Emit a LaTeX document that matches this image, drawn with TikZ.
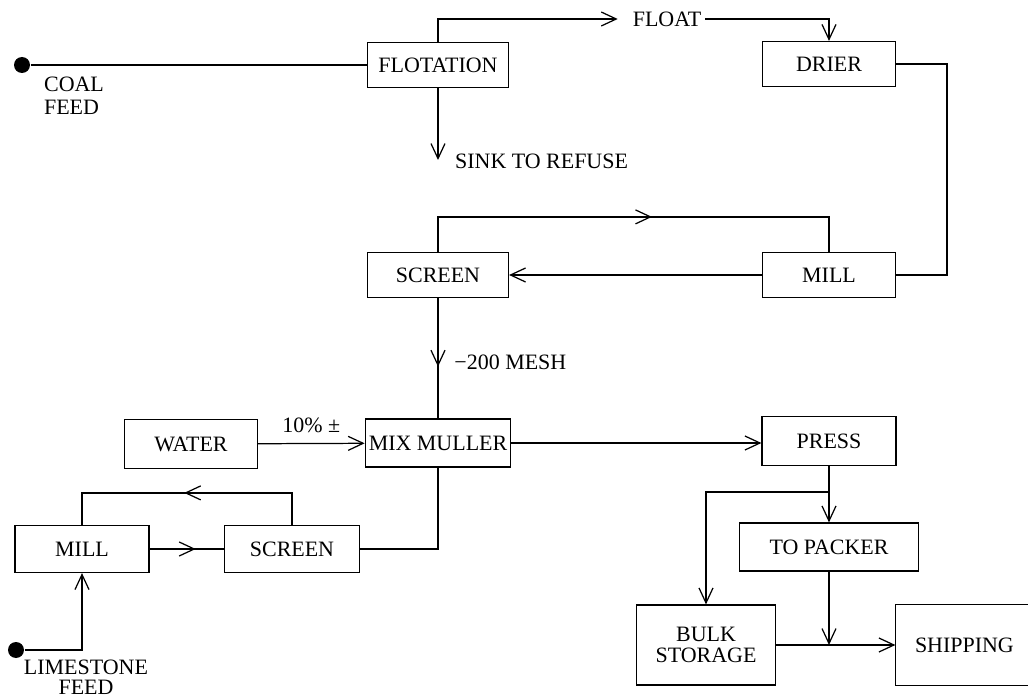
\documentclass[tikz,border=0pt]{standalone}
\usepackage{fontspec}
\setmainfont{Liberation Serif}
\usetikzlibrary{arrows.meta,decorations.markings}

\begin{document}
\begin{tikzpicture}[x=0.02cm, y=-0.02cm, line width=0.7pt,
    >={Straight Barb[length=3mm,width=2.8mm]},
    box/.style={draw, minimum height=0.9cm, inner sep=2pt, align=center, font=\fontsize{12.5}{12}\selectfont},
    lbl/.style={inner sep=2pt, align=center, font=\fontsize{12.5}{13}\selectfont},
    feed/.style={circle, fill, inner sep=0pt, minimum size=0.32cm},
    midarrow/.style={postaction={decorate}, decoration={markings, mark=at position #1 with {\arrow{>}}}}]
    \useasboundingbox (0,0) rectangle (1028,699);

    % coal side
    \node[feed] (coal) at (22,65) {};
    \node[lbl, align=left] (coallbl) at (74,96) {COAL\\FEED};
    \node[box, minimum width=2.82cm] (flot) at (438,65) {FLOTATION};
    \node[lbl] (float) at (667,19) {FLOAT};
    \coordinate (sink) at (438,160);
    \node[lbl, anchor=west] (sinklbl) at (451,161) {SINK TO REFUSE};
    \node[box, minimum width=2.66cm] (drier) at (829,64) {DRIER};
    \node[box, minimum width=2.66cm] (mill) at (829,275) {MILL};
    \node[box, minimum width=2.82cm] (screen) at (438,275) {SCREEN};

    % mixing
    \node[box, minimum width=2.82cm, minimum height=0.96cm] (mix) at (438,443) {MIX MULLER};
    \node[box, minimum width=2.66cm, minimum height=0.98cm] (water) at (191,444) {WATER};

    % limestone side
    \node[feed] (lime) at (16,650) {};
    \node[lbl, font=\fontsize{12.5}{11.5}\selectfont] (limelbl) at (86,677) {LIMESTONE\\FEED};
    \node[box, minimum width=2.68cm, minimum height=0.94cm] (lmill) at (82,549) {MILL};
    \node[box, minimum width=2.7cm, minimum height=0.94cm] (lscreen) at (292,549) {SCREEN};

    % press and shipping (box runs off the right edge)
    \node[box, minimum width=2.68cm, minimum height=0.98cm] (press) at (829,441) {PRESS};
    \node[box, minimum width=3.58cm, minimum height=0.96cm] (packer) at (829,547) {TO PACKER};
    \node[box, minimum width=2.78cm, minimum height=1.6cm] (bulk) at (706,645) {BULK\\STORAGE};
    \node[box, draw=none, align=left, text width=2.8cm, inner xsep=0.38cm, minimum height=1.6cm] (ship) at (985,645) {SHIPPING};
    \draw (ship.north east) -- (ship.north west) -- (ship.south west) -- (ship.south east);
    \coordinate (split) at (829,492);
    \coordinate (join) at (829,645);

    % arrows
    \draw (coal) -- (flot);
    \draw[->, shorten >=0.22cm] (flot.north) |- (float.west);
    \draw[->] (float.east) -| (drier.north);
    \draw[->] (flot.south) -- (sink);
    \draw (drier.east) -- ++(51,0) |- (mill.east);
    \draw[->] (mill) -- (screen);
    \draw[midarrow=0.54] (screen.north) -- ++(0,-35) -| (mill.north);
    \draw[midarrow=0.57] (screen.south) -- (mix.north) node[lbl, pos=0.53, right=7pt] {−200 MESH};
    \draw[->] (water) -- (mix) node[lbl, midway, above=4pt] {10\% ±};
    \draw[->] (mix.east) -- (mix.east -| press.west);
    \draw (lscreen.east) -| (mix.south);
    \draw[->] (lime) -| (lmill.south);
    \draw[midarrow=0.62] (lmill) -- (lscreen);
    \draw[midarrow=0.51] (lscreen.north) -- ++(0,-32) -| (lmill.north);
    \draw[->] (press) -- (packer);
    \draw[->] (split) -| (bulk.north);
    \draw[->] (packer.south) -- (join);
    \draw[->] (bulk) -- (ship);

\end{tikzpicture}
\end{document}
